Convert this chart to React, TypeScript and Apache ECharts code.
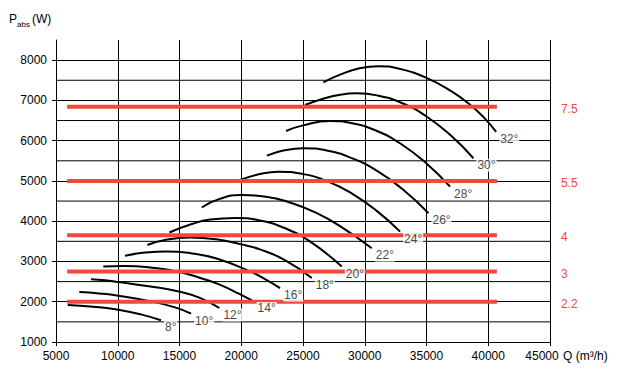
import React, { useEffect, useRef } from 'react';
import * as echarts from 'echarts';

// Axis ticks
const xTickValues = [5000, 10000, 15000, 20000, 25000, 30000, 35000, 40000, 45000];
const yTickValues = [1000, 2000, 3000, 4000, 5000, 6000, 7000, 8000];
const yHalfGridValues = [1500, 2500, 3500, 4500, 5500, 6500, 7500];

// Blade angle curves: [Q (m3/h), Pabs (W)]
const angleLabels = ['8°', '10°', '12°', '14°', '16°', '18°', '20°', '22°', '24°', '26°', '28°', '30°', '32°'];
const curve08 = [[5950, 1920], [8000, 1875], [10050, 1800], [11940, 1680], [13500, 1540]];
const curve10 = [[6890, 2240], [8500, 2205], [10050, 2150], [12600, 2015], [14640, 1860], [15940, 1705]];
const curve12 = [[7835, 2560], [9000, 2535], [10050, 2490], [12500, 2385], [15040, 2250], [16700, 2090], [18230, 1845]];
const curve14 = [[8830, 2875], [10500, 2890], [13000, 2840], [15000, 2740], [17000, 2560], [18300, 2420], [19800, 2200], [21000, 2007]];
const curve16 = [[10590, 3140], [12200, 3220], [13970, 3250], [16000, 3200], [18000, 3075], [20710, 2755], [22000, 2550], [23140, 2340]];
const curve18 = [[12400, 3410], [14000, 3545], [15850, 3595], [18000, 3550], [20000, 3425], [21520, 3300], [23500, 3040], [25710, 2590]];
const curve20 = [[14180, 3720], [16000, 3930], [17500, 4040], [19500, 4080], [21500, 4020], [23500, 3830], [25500, 3510], [28140, 2875]];
const curve22 = [[16800, 4340], [18300, 4560], [20040, 4650], [22000, 4610], [24000, 4460], [26000, 4220], [28000, 3880], [30570, 3330]];
const curve24 = [[19900, 5025], [21500, 5170], [23010, 5230], [25000, 5170], [27000, 4990], [29000, 4680], [31000, 4250], [32860, 3740]];
const curve26 = [[22070, 5630], [23500, 5760], [25030, 5810], [27000, 5750], [29000, 5560], [31000, 5250], [33000, 4810], [35160, 4200]];
const curve28 = [[23630, 6240], [25000, 6380], [27190, 6490], [29000, 6430], [31000, 6240], [33000, 5905], [35000, 5435], [36910, 4860]];
const curve30 = [[25170, 6885], [26500, 7030], [28000, 7140], [29360, 7175], [31000, 7125], [33000, 6935], [35000, 6600], [37000, 6120], [38800, 5563]];
const curve32 = [[26650, 7450], [28000, 7640], [29500, 7790], [31100, 7850], [33000, 7770], [35000, 7560], [37000, 7230], [38500, 6900], [39600, 6590], [40640, 6220]];
const curves = [curve08, curve10, curve12, curve14, curve16, curve18, curve20, curve22, curve24, curve26, curve28, curve30, curve32];

// Motor power levels (kW) drawn as red horizontal lines
const motorKW = ['2.2', '3', '4', '5.5', '7.5'];
const motorPower = [2000, 2750, 3650, 5000, 6840];
const motorLineQ = [5900, 40700];

const FONT = '"Liberation Sans", Arial, Helvetica, sans-serif';
const RED = '#ef4a3c';

export default function App() {
  const ref = useRef<HTMLDivElement>(null);

  useEffect(() => {
    if (!ref.current) return;
    const chart = echarts.init(ref.current, null, { renderer: 'svg' });

    // Half-step horizontal grid lines, drawn through the axes' scales
    const halfGridSeries = yHalfGridValues.map((v) => ({
      type: 'line',
      name: 'grid' + v,
      data: [[xTickValues[0], v], [xTickValues[xTickValues.length - 1], v]],
      symbol: 'none',
      silent: true,
      z: 1,
      lineStyle: { color: '#000', width: 1 },
    }));

    const curveSeries = curves.map((pts, i) => ({
      type: 'line',
      name: angleLabels[i],
      data: pts,
      smooth: 0.5,
      symbol: 'none',
      silent: true,
      z: 3,
      lineStyle: { color: '#000', width: 2 },
    }));

    const redSeries = motorPower.map((p, i) => ({
      type: 'line',
      name: motorKW[i] + ' kW',
      data: [[motorLineQ[0], p], [motorLineQ[1], p]],
      symbol: 'none',
      silent: true,
      z: 4,
      lineStyle: { color: RED, width: 4 },
      endLabel: {
        show: true,
        formatter: motorKW[i],
        distance: 64,
        offset: [0, 2],
        color: RED,
        fontSize: 12,
        fontFamily: FONT,
      },
    }));

    // Angle labels placed at each curve's end point
    const labelSeries = {
      type: 'scatter',
      name: 'angles',
      data: curves.map((c) => c[c.length - 1]),
      symbolSize: 0,
      silent: true,
      z: 6,
      label: {
        show: true,
        position: 'right',
        distance: 3,
        offset: [0, 7],
        formatter: (p: any) => angleLabels[p.dataIndex],
        color: '#111',
        fontSize: 12,
        fontFamily: FONT,
        backgroundColor: '#fff',
        padding: [1, 1, 0, 1],
      },
    };

    chart.setOption({
      animation: false,
      backgroundColor: '#fff',
      textStyle: { fontFamily: FONT },
      grid: { left: 56, right: 67, top: 40, bottom: 32, containLabel: false, outerBoundsMode: 'none' },
      xAxis: {
        type: 'value',
        min: xTickValues[0],
        max: xTickValues[xTickValues.length - 1],
        interval: 5000,
        axisLine: { show: true, lineStyle: { color: '#000', width: 1 } },
        axisTick: { show: true, length: 4, lineStyle: { color: '#000' } },
        axisLabel: {
          color: '#000',
          fontSize: 12,
          fontFamily: FONT,
          margin: 8,
          formatter: (v: number) => (v === 45000 ? '{e|45000}' : String(v)),
          rich: { e: { padding: [0, 16, 0, 0], fontSize: 12, fontFamily: FONT, color: '#000' } },
        },
        splitLine: { show: true, lineStyle: { color: '#000', width: 1 } },
      },
      yAxis: {
        type: 'value',
        min: 1000,
        max: 8500,
        interval: 500,
        axisLine: { show: true, lineStyle: { color: '#000', width: 1 } },
        axisTick: { show: true, length: 4, customValues: yTickValues, lineStyle: { color: '#000' } },
        axisLabel: {
          color: '#000',
          fontSize: 12,
          fontFamily: FONT,
          margin: 9,
          customValues: yTickValues,
          formatter: (v: number) => String(v),
        },
        splitLine: { show: true, lineStyle: { color: '#000', width: 1 } },
      },
      graphic: [
        { type: 'text', left: 9, top: 13, style: { text: 'P', fontSize: 12, fontFamily: FONT, fill: '#000' } },
        { type: 'text', left: 17, top: 20, style: { text: 'abs', fontSize: 8, fontFamily: FONT, fill: '#000' } },
        { type: 'text', left: 32, top: 13, style: { text: '(W)', fontSize: 12, fontFamily: FONT, fill: '#000' } },
        { type: 'text', left: 563, top: 350, style: { text: 'Q (m³/h)', fontSize: 12, fontFamily: FONT, fill: '#000' } },
      ],
      series: [...halfGridSeries, ...curveSeries, ...redSeries, labelSeries],
    } as any);

    return () => chart.dispose();
  }, []);

  return (
    <div
      ref={ref}
      style={{ position: 'fixed', left: 0, top: 0, width: 617, height: 374, background: '#fff' }}
    />
  );
}
